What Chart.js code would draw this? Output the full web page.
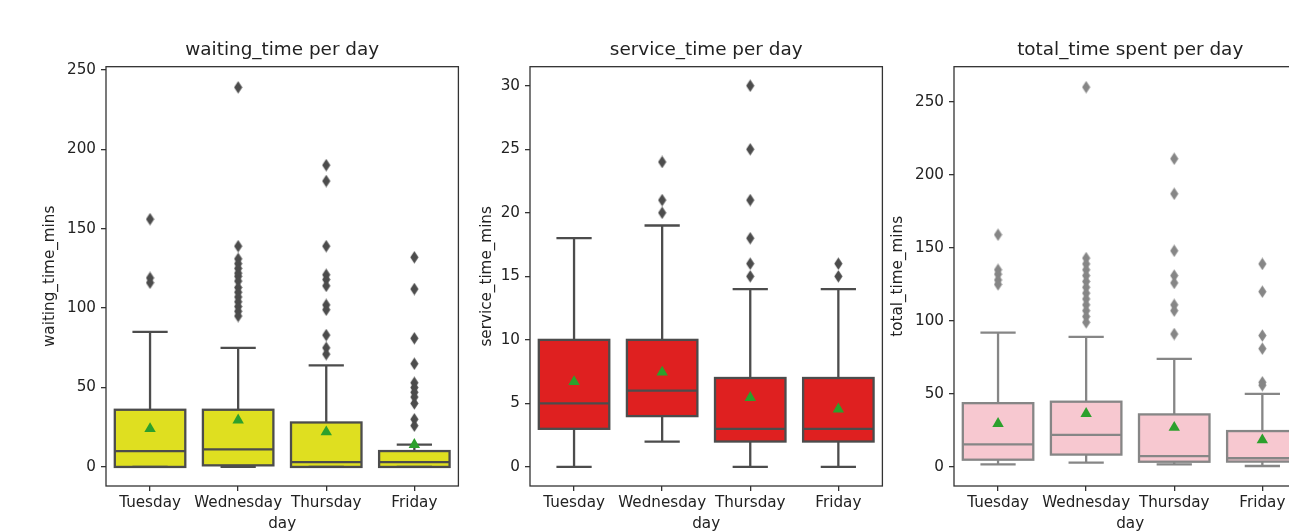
<!DOCTYPE html>
<html>
<head>
<meta charset="utf-8">
<script src="https://cdn.jsdelivr.net/npm/chart.js@4.4.0/dist/chart.umd.min.js"></script>
<style>
  html, body { margin: 0; padding: 0; background: #fff; width: 1289px; height: 531px; overflow: hidden; }
  .panel { position: absolute; top: 0; }
</style>
</head>
<body>
<div class="panel" id="p0"><canvas id="c0"></canvas></div>
<div class="panel" id="p1"><canvas id="c1"></canvas></div>
<div class="panel" id="p2"><canvas id="c2"></canvas></div>
<script>
// ---- data -------------------------------------------------------------
const days = ['Tuesday', 'Wednesday', 'Thursday', 'Friday'];

// waiting_time_mins
const waitWhiskerLo = [0, 0, 0, 0];
const waitQ1        = [0, 1, 0, 0];
const waitMedian    = [10, 11, 3, 3];
const waitQ3        = [36, 36, 28, 10];
const waitWhiskerHi = [85, 75, 64, 14];
const waitMean      = [24, 29.5, 22, 14];
const waitOutliers  = [
  [156, 119, 116],
  [239, 139, 131, 128, 125, 122, 120, 117, 113, 110, 107, 104, 101, 98, 95],
  [190, 180, 139, 121, 118, 114, 102, 99, 83, 75, 71],
  [132, 112, 81, 65, 53, 50, 47, 44, 40, 30, 26]
];
const waitTicks = [0, 50, 100, 150, 200, 250];

// service_time_mins
const serviceWhiskerLo = [0, 2, 0, 0];
const serviceQ1        = [3, 4, 2, 2];
const serviceMedian    = [5, 6, 3, 3];
const serviceQ3        = [10, 10, 7, 7];
const serviceWhiskerHi = [18, 19, 14, 14];
const serviceMean      = [6.7, 7.45, 5.45, 4.55];
const serviceOutliers  = [
  [],
  [24, 21, 20],
  [30, 25, 21, 18, 16, 15],
  [16, 15]
];
const serviceTicks = [0, 5, 10, 15, 20, 25, 30];

// total_time_mins
const totalWhiskerLo = [1.8, 3, 1.8, 0.7];
const totalQ1        = [5, 8.5, 3.6, 3.7];
const totalMedian    = [15.5, 22, 7.5, 6];
const totalQ3        = [43.7, 44.7, 36, 24.6];
const totalWhiskerHi = [92, 89, 74, 50];
const totalMean      = [29.7, 36.5, 27, 18.5];
const totalOutliers  = [
  [159, 135, 132, 128, 125],
  [260, 143, 139, 135, 131, 127, 123, 119, 115, 111, 107, 103, 99],
  [211, 187, 148, 131, 126, 111, 107, 91],
  [139, 120, 90, 81, 58, 56]
];
const totalTicks = [0, 50, 100, 150, 200, 250];

// ---- styling / layout -------------------------------------------------
const FONT = 'DejaVu Sans';
const TEXT = '#222';
const SPINE = '#333';
const MEAN_GREEN = '#2ca02c';
const TICK_SIZE = 15.2, TITLE_SIZE = 18.4;
const AREA_W = 355, LEFT_ROOM = 72, RIGHT_ROOM = 4, CANVAS_H = 533, X_AXIS_H = 47;

const panels = [
  { canvas: 'c0', holder: 'p0', areaLeft: 106, yTitleX: 50,
    title: 'waiting_time per day', yLabel: 'waiting_time_mins',
    fill: '#dfdf20', line: '#4c4c4c', yMin: -12, yMax: 252, ticks: waitTicks,
    lo: waitWhiskerLo, q1: waitQ1, med: waitMedian, q3: waitQ3, hi: waitWhiskerHi,
    mean: waitMean, out: waitOutliers },
  { canvas: 'c1', holder: 'p1', areaLeft: 530, yTitleX: 486.7,
    title: 'service_time per day', yLabel: 'service_time_mins',
    fill: '#df2020', line: '#4c4c4c', yMin: -1.5, yMax: 31.5, ticks: serviceTicks,
    lo: serviceWhiskerLo, q1: serviceQ1, med: serviceMedian, q3: serviceQ3, hi: serviceWhiskerHi,
    mean: serviceMean, out: serviceOutliers },
  { canvas: 'c2', holder: 'p2', areaLeft: 954, yTitleX: 898.3,
    title: 'total_time spent per day', yLabel: 'total_time_mins',
    fill: '#f7c8d0', line: '#868686', yMin: -13, yMax: 274, ticks: totalTicks,
    lo: totalWhiskerLo, q1: totalQ1, med: totalMedian, q3: totalQ3, hi: totalWhiskerHi,
    mean: totalMean, out: totalOutliers }
];

// thin diamond marker for fliers
function thinDiamond(color) {
  const c = document.createElement('canvas');
  c.width = 9; c.height = 13;
  const g = c.getContext('2d');
  g.fillStyle = color;
  g.beginPath();
  g.moveTo(4.5, 0.3);
  g.lineTo(8.6, 6.5);
  g.lineTo(4.5, 12.7);
  g.lineTo(0.4, 6.5);
  g.closePath();
  g.fill();
  return c;
}

// whiskers, caps, medians and box outlines, drawn right after the boxes
function boxLinesPlugin(p) {
  return {
    id: 'boxLines',
    afterDatasetDraw(chart, args) {
      if (args.index !== 0) return;
      const ctx = chart.ctx;
      const xs = chart.scales.x, ys = chart.scales.y;
      const bars = args.meta.data;
      ctx.save();
      ctx.strokeStyle = p.line;
      ctx.lineWidth = 2.3;
      ctx.lineCap = 'butt';
      days.forEach((d, i) => {
        const x = xs.getPixelForValue(i);
        const half = bars[i].width / 2;
        const yLo = ys.getPixelForValue(p.lo[i]);
        const yQ1 = ys.getPixelForValue(p.q1[i]);
        const yMed = ys.getPixelForValue(p.med[i]);
        const yQ3 = ys.getPixelForValue(p.q3[i]);
        const yHi = ys.getPixelForValue(p.hi[i]);
        ctx.beginPath();
        // whiskers
        ctx.moveTo(x, yQ3); ctx.lineTo(x, yHi);
        ctx.moveTo(x, yQ1); ctx.lineTo(x, yLo);
        // caps
        ctx.moveTo(x - half / 2, yHi); ctx.lineTo(x + half / 2, yHi);
        ctx.moveTo(x - half / 2, yLo); ctx.lineTo(x + half / 2, yLo);
        // median
        ctx.moveTo(x - half, yMed); ctx.lineTo(x + half, yMed);
        ctx.stroke();
        // box outline
        ctx.strokeRect(x - half, yQ3, 2 * half, yQ1 - yQ3);
      });
      ctx.restore();
    },
    afterDraw(chart) {
      const a = chart.chartArea, ctx = chart.ctx;
      ctx.save();
      ctx.strokeStyle = SPINE;
      ctx.lineWidth = 1.3;
      ctx.strokeRect(a.left, a.top, a.right - a.left, a.bottom - a.top);
      ctx.restore();
    }
  };
}

panels.forEach(p => {
  const holder = document.getElementById(p.holder);
  holder.style.left = (p.areaLeft - LEFT_ROOM) + 'px';
  const canvas = document.getElementById(p.canvas);
  const W = LEFT_ROOM + AREA_W + RIGHT_ROOM;
  canvas.width = W; canvas.height = CANVAS_H;
  canvas.style.width = W + 'px'; canvas.style.height = CANVAS_H + 'px';

  const padLeft = p.yTitleX - TICK_SIZE * 1.2 / 2 - (p.areaLeft - LEFT_ROOM);

  const fliers = [];
  p.out.forEach((vals, i) => vals.forEach(v => fliers.push({ x: days[i], y: v })));

  new Chart(canvas, {
    type: 'bar',
    data: {
      labels: days,
      datasets: [
        { type: 'bar', data: p.q1.map((v, i) => [v, p.q3[i]]),
          backgroundColor: p.fill, borderWidth: 0,
          barPercentage: 0.8, categoryPercentage: 1.0, order: 3 },
        { type: 'line', data: fliers, showLine: false,
          pointStyle: thinDiamond(p.line), pointRadius: 4, order: 2 },
        { type: 'line', data: p.mean, showLine: false,
          pointStyle: 'triangle', pointRadius: 6.6, pointBorderWidth: 0,
          pointBackgroundColor: MEAN_GREEN, pointBorderColor: MEAN_GREEN, order: 1 }
      ]
    },
    options: {
      responsive: false,
      animation: false,
      devicePixelRatio: 1,
      events: [],
      layout: { padding: { left: padLeft, right: RIGHT_ROOM, top: 0, bottom: 0 } },
      plugins: {
        legend: { display: false },
        tooltip: { enabled: false },
        title: {
          display: true, text: p.title, fullSize: false,
          color: TEXT, font: { family: FONT, size: TITLE_SIZE, weight: 'normal' },
          padding: { top: 39.5, bottom: 5.1 }
        }
      },
      scales: {
        x: {
          type: 'category', offset: true,
          afterFit: s => { s.height = X_AXIS_H; },
          grid: { display: true, drawOnChartArea: false, drawTicks: true, tickLength: 5,
                  color: SPINE, lineWidth: 1.3, offset: false },
          border: { display: false },
          ticks: { color: TEXT, font: { family: FONT, size: TICK_SIZE }, padding: 3,
                   maxRotation: 0, minRotation: 0, autoSkip: false },
          title: { display: true, text: 'day', color: TEXT,
                   font: { family: FONT, size: TICK_SIZE }, padding: 0 }
        },
        y: {
          type: 'linear', min: p.yMin, max: p.yMax,
          afterFit: s => { s.width = LEFT_ROOM - padLeft; },
          afterBuildTicks: s => { s.ticks = p.ticks.map(v => ({ value: v })); },
          grid: { display: true, drawOnChartArea: false, drawTicks: true, tickLength: 5,
                  color: SPINE, lineWidth: 1.3 },
          border: { display: false },
          ticks: { color: TEXT, font: { family: FONT, size: TICK_SIZE }, padding: 5 },
          title: { display: true, text: p.yLabel, color: TEXT,
                   font: { family: FONT, size: TICK_SIZE }, padding: 0 }
        }
      }
    },
    plugins: [boxLinesPlugin(p)]
  });
});
</script>
</body>
</html>
